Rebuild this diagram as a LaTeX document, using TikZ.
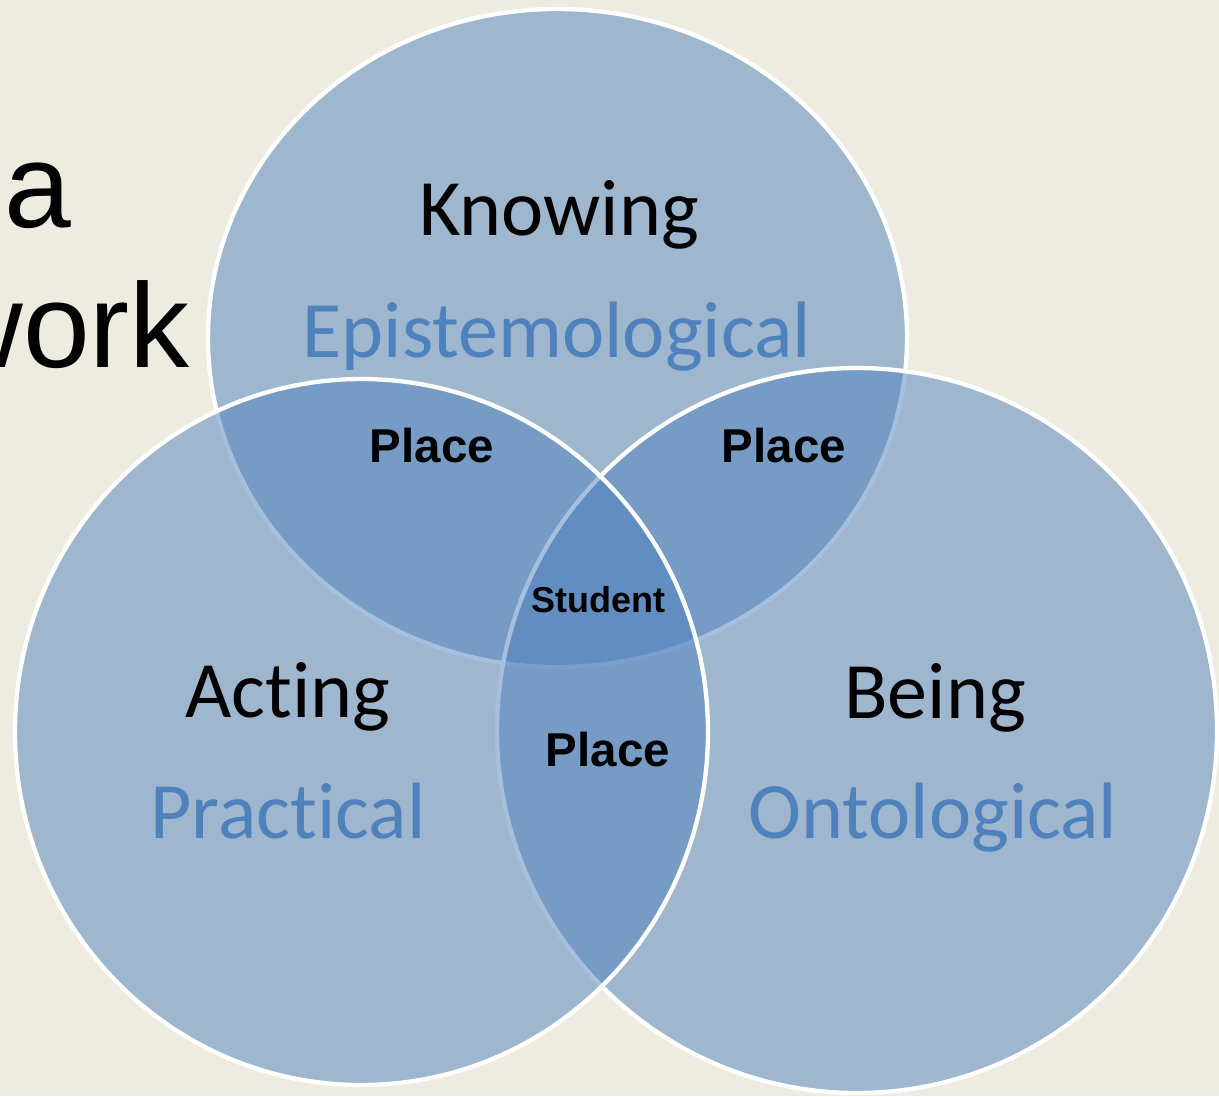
\documentclass[tikz,border=0pt]{standalone}
\usepackage{fontspec}
\setmainfont{Carlito}[Ligatures=NoCommon]
\newfontfamily\arialfont{Liberation Sans}[Ligatures=NoCommon]
\definecolor{bgtan}{HTML}{EEECE1}
\definecolor{officeblue}{HTML}{4F81BD}
\begin{document}
\begin{tikzpicture}[x=1pt,y=-1pt,
  venn/.style={draw=white, line width=4.3pt, fill=officeblue, fill opacity=0.5},
  big/.style={anchor=base, inner sep=0pt, font=\fontsize{80}{80}\selectfont},
  sub/.style={big, text=officeblue},
  place/.style={anchor=base, inner sep=0pt, font=\arialfont\bfseries\fontsize{47.5}{47.5}\selectfont},
  title/.style={inner sep=0pt, font=\arialfont\fontsize{120}{120}\selectfont}]
\fill[bgtan] (0,0) rectangle (1219,1096);
\useasboundingbox (0,0) rectangle (1219,1096);
\begin{scope}
\clip (0,0) rectangle (1219,1096);
% partial slide title
\node[title, anchor=base west] (ta) at (4,227) {a};
\node[title, anchor=base east] (tw) at (190,367) {work};
% circles: top, right, left (drawing order)
\draw[venn] (557.5,338) ellipse [x radius=349.5, y radius=329];
\draw[venn] (857,730.5) ellipse [x radius=360, y radius=362.5];
\draw[venn] (361.5,732) ellipse [x radius=346.5, y radius=353];
\end{scope}
% labels
\node[big] (know) at (559,235) {Knowing};
\node[sub] (epis) at (557,357) {Epistemological};
\node[big] (act) at (288,717) {Acting};
\node[sub] (prac) at (288,838) {Practical};
\node[big] (being) at (935,718) {Being};
\node[sub] (onto) at (933,838) {Ontological};
\node[place] (p1) at (432,462) {Place};
\node[place] (p2) at (784,462) {Place};
\node[place] (p3) at (608,766) {Place};
\node[place, font=\arialfont\bfseries\fontsize{36}{36}\selectfont] (stu) at (598,612) {Student};
\end{tikzpicture}
\end{document}
